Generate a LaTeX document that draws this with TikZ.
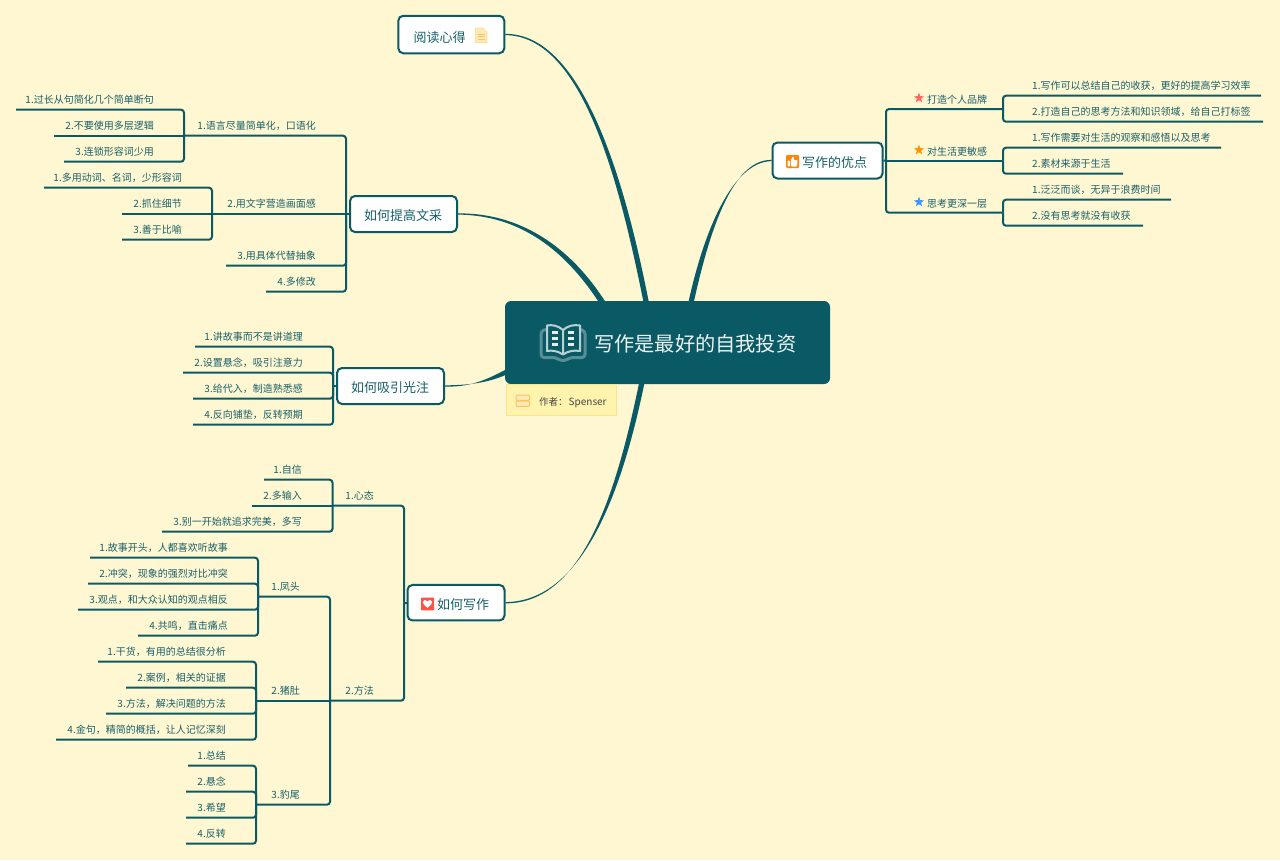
\documentclass[tikz,border=0pt]{standalone}
\usepackage{fontspec}
\setmainfont{Noto Sans CJK SC}
\usetikzlibrary{calc,backgrounds,shapes.geometric}
\newcommand\fcm{\char"FF0C\relax}
\newcommand\fcl{\char"FF1A\relax}
\definecolor{bgc}{HTML}{FFF7D2}
\definecolor{linec}{HTML}{0A5A65}
\definecolor{txtc}{HTML}{17606A}
\definecolor{notefill}{HTML}{FFF3AE}
\definecolor{noteline}{HTML}{FFE28A}
\definecolor{iconline}{HTML}{F8C85E}
\definecolor{iconfill}{HTML}{FFE9B8}
\tikzset{
  conn/.style={draw=linec,line width=2pt,rounded corners=3pt},
  topic/.style={draw=linec,line width=2pt,fill=white,rounded corners=5pt,inner sep=0pt,minimum height=36pt},
  topictext/.style={anchor=base west,inner sep=0pt,text=txtc,font=\fontsize{13}{15}\selectfont},
  lefttext/.style={anchor=base east,inner sep=0pt,text=txtc,font=\fontsize{10}{12}\selectfont},
  righttext/.style={anchor=base west,inner sep=0pt,text=txtc,font=\fontsize{10}{12}\selectfont},
  starmark/.style={star,star points=5,star point ratio=2.3,inner sep=0pt,minimum size=10.5pt}
}
% left-growing leaf: name, line end x, line y, text right x, text
\newcommand\lleaf[5]{\coordinate (#1) at (#2,#3);\node[lefttext] (#1t) at (#4,#3-6) {#5};}
% right-growing leaf: name, line end x, line y, text left x, text
\newcommand\rleaf[5]{\coordinate (#1) at (#2,#3);\node[righttext] (#1t) at (#4,#3-6) {#5};}
% tapered main branch: start, c1, c2, end, half width at the end
\newcommand\taper[5]{\begin{scope}[on background layer]
\fill[linec] ($(#1)+(0,-0.6)$) .. controls ($(#2)+(0,-1.3)$) and ($(#3)+1.25*(#5)$) .. ($(#4)+(#5)$)
 -- ($(#4)-(#5)$) .. controls ($(#3)-1.25*(#5)$) and ($(#2)+(0,1.3)$) .. ($(#1)+(0,0.6)$) -- cycle;
\end{scope}}
\begin{document}
\begin{tikzpicture}[x=1pt,y=-1pt]
\useasboundingbox (0,0) rectangle (1280,860);
\begin{scope}[on background layer]
\fill[bgc] (0,0) rectangle (1280,860);
\end{scope}

% root
\node[fill=linec,rounded corners=6pt,inner sep=0pt,minimum width=325pt,minimum height=83pt] (root) at (667.5,342.5) {};
\node[anchor=base west,inner sep=0pt,text=white!92!linec,font=\fontsize{20.2}{24}\selectfont] (roott) at (594,351) {写作是最好的自我投资};
% book icon
\draw[draw=white!32!linec,line width=3pt,line join=round,rounded corners=3pt] (546,329.5) -- (541,331) -- (541,357.5) -- (556,357.5) -- (560,360.5) -- (566,360.5) -- (570,357.5) -- (585,357.5) -- (585,331) -- (580,329.5);
\draw[draw=white!72!linec,line width=2pt,line join=round] (563,330) .. controls (558,325.5) and (552,324.5) .. (547,325.5) -- (547,351) .. controls (552,350) and (558,351) .. (563,354.5) .. controls (568,351) and (574,350) .. (580,351) -- (580,325.5) .. controls (574,324.5) and (568,325.5) .. (563,330) -- (563,354);
\foreach \yy in {330.5,336.5,342.5}{
\fill[white!90!linec] (552,\yy) rectangle (558,\yy+3);
\fill[white!90!linec] (568,\yy) rectangle (574,\yy+3);}

% author note
\node[draw=noteline,line width=0.7pt,fill=notefill,inner sep=0pt,minimum width=110.5pt,minimum height=31.5pt] (note) at (561.5,400) {};
\node[anchor=base west,inner sep=0pt,text=black!72,font=\fontsize{9.5}{11}\selectfont] (notet) at (539,405) {作者\fcl\hspace{1pt}\fontsize{10}{11}\selectfont Spenser};
\draw[draw=iconline,fill=iconfill,line width=1pt,rounded corners=1pt] (516,395) rectangle (529.5,400.3);
\draw[draw=iconline,fill=iconfill,line width=1pt,rounded corners=1pt] (516,401) rectangle (529.5,406.3);

% main topics
\node[topic,minimum width=106pt,minimum height=37.5pt] (read) at (451.3,34.5) {};
\node[topictext] (readt) at (413.5,42) {阅读心得};
\draw[draw=noteline,fill=iconfill,line width=0.9pt,line join=round] (475.5,28) -- (482.5,28) -- (487,32.5) -- (487,42.5) -- (475.5,42.5) -- cycle;
\draw[draw=iconline,line width=0.9pt] (477.5,34) -- (485,34) (477.5,36.5) -- (485,36.5) (477.5,39) -- (485,39);

\node[topic,minimum width=110pt] (adv) at (827.5,160.5) {};
\node[topictext] (advt) at (802,167.5) {写作的优点};
\fill[orange!95!yellow,rounded corners=1pt] (786,155) rectangle (799,168);
\fill[white,rounded corners=0.8pt] (787.5,160.5) rectangle (790,166.5);
\fill[white,rounded corners=1pt] (790.8,160.5) -- (792.8,156.3) -- (794,157) -- (793.6,160) -- (797.6,160) -- (797,166.5) -- (790.8,166.5) -- cycle;

\node[topic,minimum width=107pt] (wen) at (403.5,214) {};
\node[topictext] (went) at (364,220.5) {如何提高文采};
\node[topic,minimum width=107pt] (att) at (390.5,386) {};
\node[topictext] (attt) at (351,392.5) {如何吸引光注};
\node[topic,minimum width=97pt,minimum height=35.5pt] (how) at (456,602.7) {};
\node[topictext] (howt) at (437,609.5) {如何写作};
\fill[red!70!white!90!orange,rounded corners=0.6pt] (421,597.7) rectangle (434,610.3);
\fill[white] (427.5,607.8) .. controls (424.5,605.5) and (422.8,603.8) .. (422.8,602) .. controls (422.8,599.6) and (426.3,599) .. (427.5,601.3) .. controls (428.7,599) and (432.2,599.6) .. (432.2,602) .. controls (432.2,603.8) and (430.5,605.5) .. (427.5,607.8) -- cycle;

% tapered main branches
\taper{read.east}{585,34.5}{625,190}{650,322}{2.6,0}
\taper{adv.west}{730,160.5}{703,240}{687,322}{2.6,0}
\taper{wen.east}{530,214}{580,260}{614,322}{2.2,-1.6}
\taper{att.east}{475,386}{495,380}{528,360}{1.2,2.4}
\taper{how.east}{590,602.7}{625,470}{646,362}{2.6,0}

% ---------- right side
\coordinate (advj) at (886,160.7);
\draw[conn] (adv.east) -- (advj);
\coordinate (b1) at (1003,109);
\coordinate (b2) at (1003,160.7);
\coordinate (b3) at (1003,212.7);
\node[righttext] (b1t) at (927,103) {打造个人品牌};
\node[righttext] (b2t) at (927,155) {对生活更敏感};
\node[righttext] (b3t) at (927,207) {思考更深一层};
\node[starmark,fill=red!60!white!95!orange] (s1) at (919,98) {};
\node[starmark,fill=orange!85!yellow] (s2) at (919,150) {};
\node[starmark,fill=blue!55!cyan!75!white] (s3) at (919,202) {};
\draw[conn] (b1) -| (advj);
\draw[conn] (b2) -- (advj);
\draw[conn] (b3) -| (advj);
\rleaf{c1}{1261}{95.7}{1032}{1.写作可以总结自己的收获\fcm 更好的提高学习效率}
\rleaf{c2}{1263}{121.7}{1032}{2.打造自己的思考方法和知识领域\fcm 给自己打标签}
\rleaf{c3}{1221}{147.7}{1032}{1.写作需要对生活的观察和感悟以及思考}
\rleaf{c4}{1123}{173.7}{1032}{2.素材来源于生活}
\rleaf{c5}{1171}{199.7}{1032}{1.泛泛而谈\fcm 无异于浪费时间}
\rleaf{c6}{1143}{225.7}{1032}{2.没有思考就没有收获}
\draw[conn] (c1) -| (b1);
\draw[conn] (c2) -| (b1);
\draw[conn] (c3) -| (b2);
\draw[conn] (c4) -| (b2);
\draw[conn] (c5) -| (b3);
\draw[conn] (c6) -| (b3);

% ---------- 如何提高文采
\coordinate (wenj) at (346,214);
\draw[conn] (wen.west) -- (wenj);
\lleaf{w1}{184}{135.7}{316}{1.语言尽量简单化\fcm 口语化}
\lleaf{w2}{212}{213.7}{316}{2.用文字营造画面感}
\lleaf{w3}{226}{265.7}{316}{3.用具体代替抽象}
\lleaf{w4}{266}{291.7}{316}{4.多修改}
\draw[conn] (w1) -| (wenj);
\draw[conn] (w2) -- (w2 -| wenj);
\draw[conn] (w3) -| (wenj);
\draw[conn] (w4) -| (wenj);
\lleaf{w11}{16}{109.7}{154}{1.过长从句简化几个简单断句}
\lleaf{w12}{54}{135.7}{154}{2.不要使用多层逻辑}
\lleaf{w13}{64}{161.7}{154}{3.连锁形容词少用}
\draw[conn] (w11) -| (w1);
\draw[conn] (w12) -- (w1);
\draw[conn] (w13) -| (w1);
\lleaf{w21}{44}{187.7}{182}{1.多用动词、名词\fcm 少形容词}
\lleaf{w22}{122}{213.7}{182}{2.抓住细节}
\lleaf{w23}{122}{239.7}{182}{3.善于比喻}
\draw[conn] (w21) -| (w2);
\draw[conn] (w22) -- (w2);
\draw[conn] (w23) -| (w2);

% ---------- 如何吸引光注
\coordinate (attj) at (333,386);
\draw[conn] (att.west) -- (attj);
\lleaf{a1}{195}{346.7}{303}{1.讲故事而不是讲道理}
\lleaf{a2}{183}{372.7}{303}{2.设置悬念\fcm 吸引注意力}
\lleaf{a3}{193}{398.7}{303}{3.给代入\fcm 制造熟悉感}
\lleaf{a4}{193}{424.7}{303}{4.反向铺垫\fcm 反转预期}
\draw[conn] (a1) -| (attj);
\draw[conn] (a2) -| (attj);
\draw[conn] (a3) -| (attj);
\draw[conn] (a4) -| (attj);

% ---------- 如何写作
\coordinate (howj) at (404,602.7);
\draw[conn] (how.west) -- (howj);
\lleaf{h1}{332.5}{505.7}{374}{1.心态}
\lleaf{h2}{330}{700.7}{374}{2.方法}
\draw[conn] (h1) -| (howj);
\draw[conn] (h2) -| (howj);
\lleaf{h11}{264}{479.7}{302}{1.自信}
\lleaf{h12}{252}{505.7}{302}{2.多输入}
\lleaf{h13}{162}{531.7}{302}{3.别一开始就追求完美\fcm 多写}
\draw[conn] (h11) -| (h1);
\draw[conn] (h12) -- (h1);
\draw[conn] (h13) -| (h1);
\lleaf{m1}{258}{596.7}{300}{1.凤头}
\lleaf{m2}{256}{700.7}{300}{2.猪肚}
\lleaf{m3}{256}{804.7}{300}{3.豹尾}
\draw[conn] (m1) -| (h2);
\draw[conn] (m2) -- (h2);
\draw[conn] (m3) -| (h2);
\lleaf{m11}{90}{557.7}{228}{1.故事开头\fcm 人都喜欢听故事}
\lleaf{m12}{88}{583.7}{228}{2.冲突\fcm 现象的强烈对比冲突}
\lleaf{m13}{78}{609.7}{228}{3.观点\fcm 和大众认知的观点相反}
\lleaf{m14}{138}{635.7}{228}{4.共鸣\fcm 直击痛点}
\draw[conn] (m11) -| (m1);
\draw[conn] (m12) -| (m1);
\draw[conn] (m13) -| (m1);
\draw[conn] (m14) -| (m1);
\lleaf{m21}{98}{661.7}{226}{1.干货\fcm 有用的总结很分析}
\lleaf{m22}{126}{687.7}{226}{2.案例\fcm 相关的证据}
\lleaf{m23}{106}{713.7}{226}{3.方法\fcm 解决问题的方法}
\lleaf{m24}{56}{739.7}{226}{4.金句\fcm 精简的概括\fcm 让人记忆深刻}
\draw[conn] (m21) -| (m2);
\draw[conn] (m22) -| (m2);
\draw[conn] (m23) -| (m2);
\draw[conn] (m24) -| (m2);
\lleaf{m31}{188}{765.7}{226}{1.总结}
\lleaf{m32}{186}{791.7}{226}{2.悬念}
\lleaf{m33}{186}{817.7}{226}{3.希望}
\lleaf{m34}{186}{843.7}{226}{4.反转}
\draw[conn] (m31) -| (m3);
\draw[conn] (m32) -| (m3);
\draw[conn] (m33) -| (m3);
\draw[conn] (m34) -| (m3);
\end{tikzpicture}
\end{document}
